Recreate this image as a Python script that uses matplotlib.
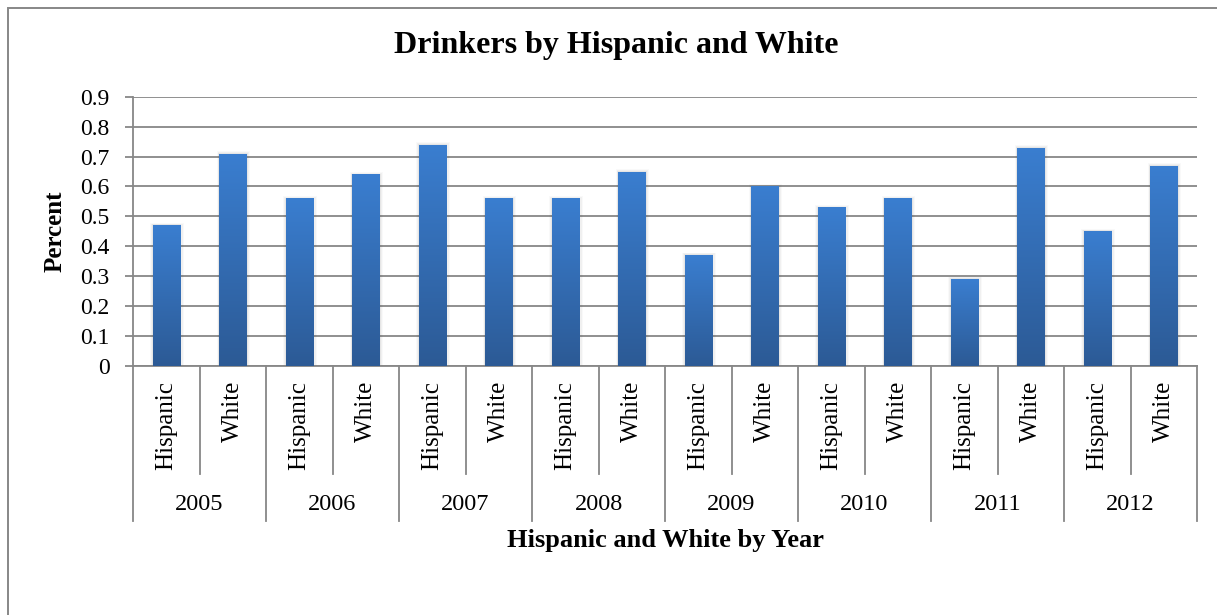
import numpy as np
import matplotlib
matplotlib.use("Agg")
import matplotlib.pyplot as plt
from matplotlib.patches import Rectangle
from matplotlib.lines import Line2D
import matplotlib.transforms as mtransforms
from matplotlib.colors import LinearSegmentedColormap

years = ["2005", "2006", "2007", "2008", "2009", "2010", "2011", "2012"]
groups = ["Hispanic", "White"]
hispanic = [0.47, 0.56, 0.74, 0.56, 0.37, 0.53, 0.29, 0.45]
white = [0.71, 0.64, 0.56, 0.65, 0.60, 0.56, 0.73, 0.67]
yticks = [0, 0.1, 0.2, 0.3, 0.4, 0.5, 0.6, 0.7, 0.8, 0.9]
ytick_labels = ["0", "0.1", "0.2", "0.3", "0.4", "0.5", "0.6", "0.7", "0.8", "0.9"]

W, H = 1217, 615
plt.rcParams["font.family"] = ["Liberation Serif", "DejaVu Serif"]
fig = plt.figure(figsize=(W / 100, H / 100), dpi=100)
fig.patch.set_facecolor("white")

def fy(px):
    return 1 - px / H

ax = fig.add_axes([133 / W, fy(366), (1197 - 133) / W, (366 - 96.7) / H])
gray = "#878787"

values = []
labels = []
for h, w in zip(hispanic, white):
    values += [h, w]
    labels += groups
n = len(values)
xs = np.arange(n) + 0.5

ax.set_xlim(0, n)
ax.set_ylim(0, 0.9)
ax.set_yticks(yticks)
ax.set_yticklabels(ytick_labels)
ax.yaxis.grid(True, color=gray, linewidth=1.3)
ax.set_axisbelow(True)
ax.set_xticks([])
for s in ["top", "right"]:
    ax.spines[s].set_visible(False)
for s in ["left", "bottom"]:
    ax.spines[s].set_color(gray)
    ax.spines[s].set_linewidth(1.3)
ax.tick_params(axis="y", length=6, width=1.3, color=gray, labelsize=17, pad=11)

cmap = LinearSegmentedColormap.from_list("barfill", ["#2C5A95", "#3A7ED0"])
grad = np.linspace(0, 1, 256).reshape(-1, 1)
bw = 0.41
for x, v in zip(xs, values):
    # soft grey shadow around each bar
    for k, a in enumerate([0.06, 0.045, 0.03]):
        d = 0.022 * (k + 1)
        ax.add_patch(Rectangle((x - bw / 2 - d * 0.5, 0), bw + d * 1.4,
                               v + 0.003 * (k + 1), facecolor="#404040", alpha=a,
                               edgecolor="none", zorder=2))
    rect = Rectangle((x - bw / 2, 0), bw, v, facecolor="none", edgecolor="none", zorder=3)
    ax.add_patch(rect)
    im = ax.imshow(grad, extent=(x - bw / 2, x + bw / 2, 0, v), origin="lower",
                   aspect="auto", cmap=cmap, zorder=3, interpolation="bilinear")
    im.set_clip_path(rect)

ax.set_aspect("auto")
ax.set_xlim(0, n)
ax.set_ylim(0, 0.9)

trans = mtransforms.blended_transform_factory(ax.transData, fig.transFigure)
for i in range(n + 1):
    bottom = 521 if i % 2 == 0 else 474
    ax.add_line(Line2D([i, i], [fy(366), fy(bottom)], transform=trans,
                       color=gray, linewidth=1.3, clip_on=False))
for x, lab in zip(xs, labels):
    ax.text(x, fy(381), lab, transform=trans, rotation=90, ha="center", va="top",
            fontsize=18)
for j, yr in enumerate(years):
    ax.text(2 * j + 1, fy(505), yr, transform=trans, ha="center", va="center",
            fontsize=17.5)

ax.set_ylabel("Percent", fontsize=18, fontweight="bold")
ax.yaxis.set_label_coords((67 - 133) / 1064, 0.5)
fig.text(665 / W, fy(541), "Hispanic and White by Year", ha="center", va="center",
         fontsize=19, fontweight="bold")
fig.text(616 / W, fy(46), "Drinkers by Hispanic and White", ha="center", va="center",
         fontsize=23, fontweight="bold")

fig.patches.append(Rectangle((8 / W, -0.1), 1.2, fy(8) + 0.1, transform=fig.transFigure,
                             facecolor="none", edgecolor=gray, linewidth=1.4, zorder=0))

fig.savefig("out.png", dpi=100)
